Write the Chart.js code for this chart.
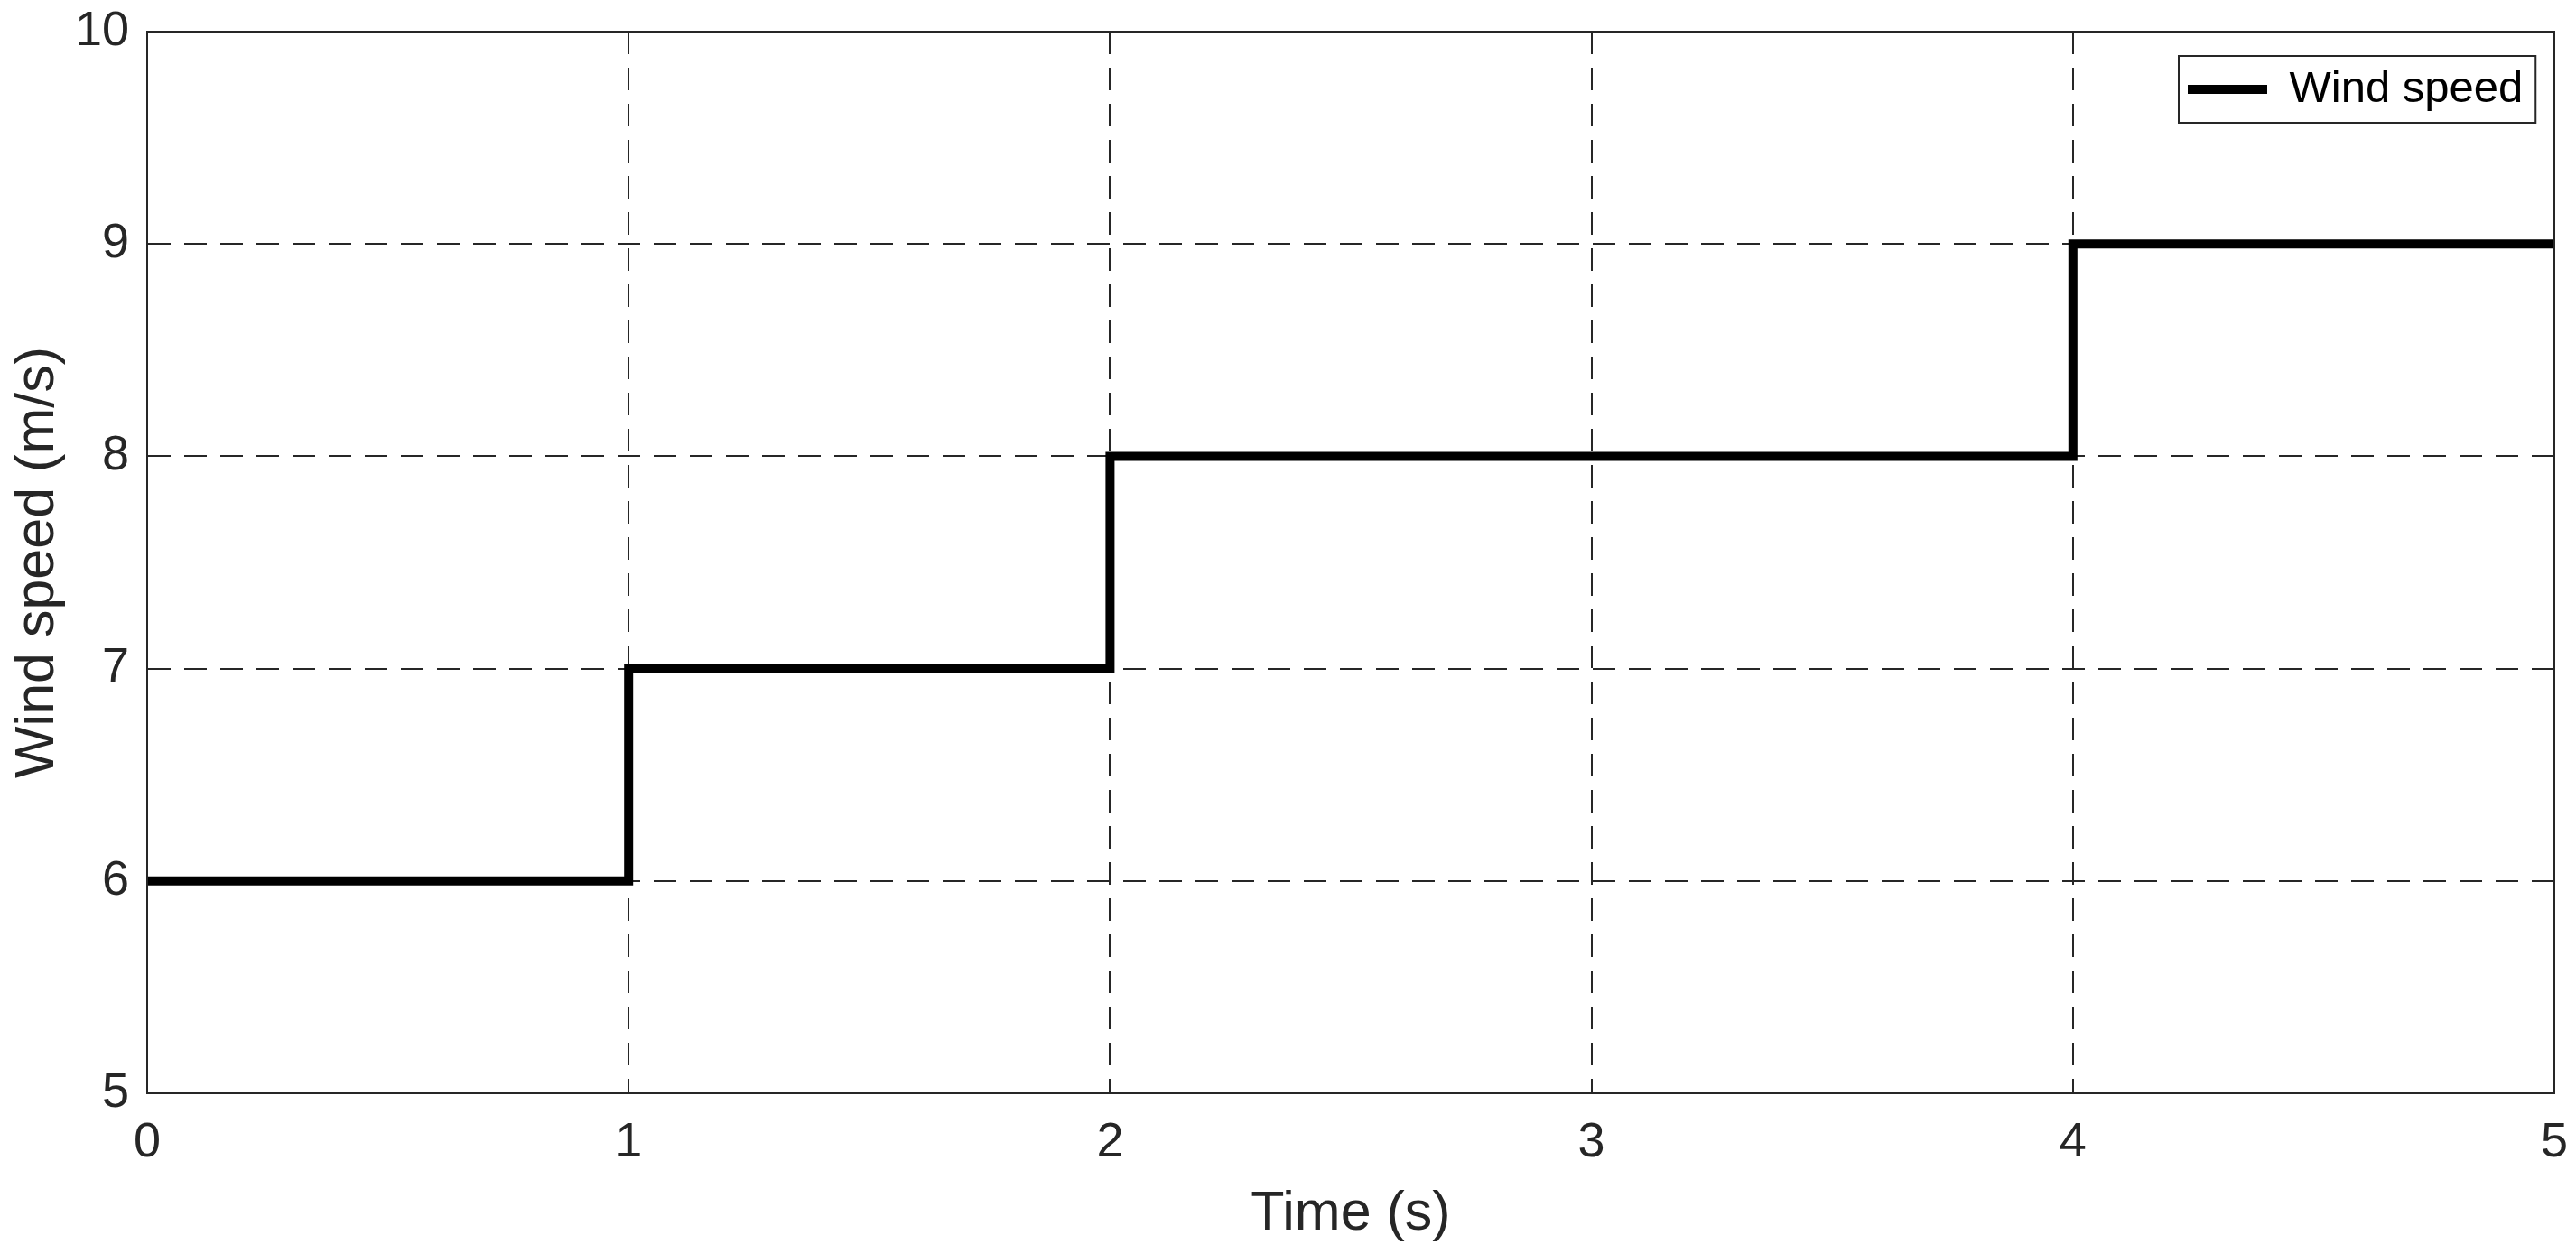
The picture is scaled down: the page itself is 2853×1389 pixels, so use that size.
<!DOCTYPE html>
<html>
<head>
<meta charset="utf-8">
<script src="https://cdn.jsdelivr.net/npm/chart.js@4.4.1/dist/chart.umd.min.js"></script>
<style>
  html, body { margin:0; padding:0; background:#fff; }
  #wrap { width:2853px; height:1389px; }
</style>
</head>
<body>
<div id="wrap"><canvas id="c" width="2853" height="1389"></canvas></div>
<script>
// ── Step wind-speed profile ───────────────────────────────
const TIMES  = [0, 1, 2, 4, 5];        // s, step changes
const SPEEDS = [6, 7, 8, 9, 9];        // m/s, held until next time
const X_TICKS = [0, 1, 2, 3, 4, 5];
const Y_TICKS = [5, 6, 7, 8, 9, 10];

const INK  = '#262626';
const FONT = "'Liberation Sans', Arial, sans-serif";
const LEG_SIZE = 49;

// put the legend in the top-right corner of the axes, like MATLAB 'northeast'
const legendSpot = {
  id: 'legendSpot',
  afterLayout(chart) {
    const lg = chart.legend;
    if (!lg) return;
    const a = chart.chartArea;
    const w = lg.width, h = lg.height;
    lg.left = a.right - 416; lg.right = lg.left + w;
    lg.top = a.top + 29.5;   lg.bottom = lg.top + h;
  },
  afterDraw(chart) {
    const { ctx, chartArea: a } = chart;
    ctx.save();
    ctx.strokeStyle = INK;
    ctx.lineWidth = 2;
    ctx.strokeRect(a.left, a.top, a.right - a.left, a.bottom - a.top);
    const lg = chart.legend;
    if (lg) {
      ctx.font = LEG_SIZE + 'px ' + FONT;
      const tw = ctx.measureText('Wind speed').width;
      const x0 = lg.left;
      const textX = lg.left + 10 + 88 + LEG_SIZE / 2;
      const cy = lg.top + 10 + LEG_SIZE / 2;
      ctx.strokeRect(x0, cy - 37, textX + tw + 14 - x0, 74);
    }
    ctx.restore();
  }
};

new Chart(document.getElementById('c'), {
  type: 'line',
  data: {
    datasets: [{
      label: 'Wind speed',
      data: TIMES.map((t, i) => ({ x: t, y: SPEEDS[i] })),
      borderColor: '#000', borderWidth: 10, stepped: 'before',
      pointRadius: 0, fill: false,
    }],
  },
  options: {
    responsive: false, animation: false,
    layout: { padding: { top: 35, right: 24, left: 0, bottom: 0 } },
    plugins: {
      tooltip: { enabled: false },
      legend: {
        position: 'chartArea', align: 'start',
        labels: {
          color: '#000', font: { family: FONT, size: LEG_SIZE },
          boxWidth: 88, boxHeight: 10, padding: 10,
          generateLabels: () => [{
            text: 'Wind speed', fillStyle: '#000', strokeStyle: '#000',
            lineWidth: 0, datasetIndex: 0,
          }],
        },
      },
    },
    scales: {
      x: {
        type: 'linear', min: 0, max: 5,
        afterFit: s => { s.height = 178; s.paddingLeft = 0; s.paddingRight = 0; },
        afterBuildTicks: s => { s.ticks = X_TICKS.map(v => ({ value: v })); },
        ticks: { color: INK, font: { family: FONT, size: 54 }, padding: 23 },
        grid: { color: INK, lineWidth: 2, drawTicks: false },
        border: { display: true, color: INK, width: 2, dash: [25, 15] },
        title: { display: true, text: 'Time (s)', color: INK,
                 font: { family: FONT, size: 61 }, padding: { top: 0, bottom: 7 } },
      },
      y: {
        min: 5, max: 10,
        afterFit: s => { s.width = 163; s.paddingTop = 0; s.paddingBottom = 0; },
        afterBuildTicks: s => { s.ticks = Y_TICKS.map(v => ({ value: v })); },
        ticks: { color: INK, font: { family: FONT, size: 54 }, padding: 20 },
        grid: { color: INK, lineWidth: 2, drawTicks: false },
        border: { display: true, color: INK, width: 2, dash: [25, 15] },
        title: { display: true, text: 'Wind speed (m/s)', color: INK,
                 font: { family: FONT, size: 61 }, padding: { top: 6, bottom: 0 } },
      },
    },
  },
  plugins: [legendSpot],
});
</script>
</body>
</html>
